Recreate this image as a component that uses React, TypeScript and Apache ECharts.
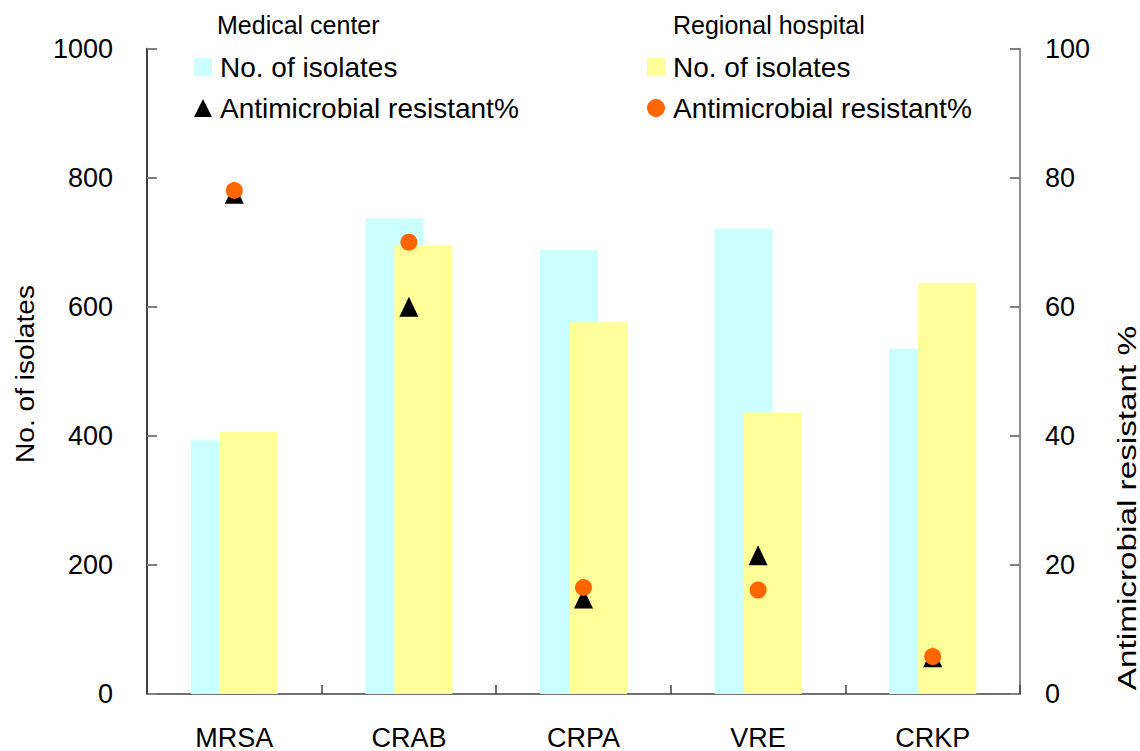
import React, { useEffect, useRef } from "react";
import * as echarts from "echarts";

const categories = ["MRSA", "CRAB", "CRPA", "VRE", "CRKP"];
const medicalIsolates = [393, 737, 688, 721, 535];
const regionalIsolates = [406, 695, 576, 436, 637];
const medicalResistant = [77.5, 60, 14.8, 21.5, 5.7];
const regionalResistant = [78, 70, 16.5, 16.1, 5.8];
const leftTicks = { min: 0, max: 1000, interval: 200 };
const rightTicks = { min: 0, max: 100, interval: 20 };

const FONT = "'Liberation Sans', Arial, Helvetica, sans-serif";
const CYAN = "#CCFFFF";
const YELLOW = "#FFFF99";
const ORANGE = "#FF6600";

const S_MED_N = "Medical center|No. of isolates";
const S_MED_P = "Medical center|Antimicrobial resistant%";
const S_REG_N = "Regional hospital|No. of isolates";
const S_REG_P = "Regional hospital|Antimicrobial resistant%";

export default function App() {
  const ref = useRef<HTMLDivElement>(null);
  useEffect(() => {
    document.body.style.margin = "0";
    const chart = echarts.init(ref.current!, null, { renderer: "svg" });
    const legendBase = {
      orient: "vertical",
      padding: 0,
      itemWidth: 18,
      itemHeight: 18,
      itemGap: 13,
      selectedMode: false,
      formatter: (name: string) => name.split("|")[1],
      textStyle: { fontFamily: FONT, fontSize: 28, color: "#000", lineHeight: 28, padding: [0, 0, 0, 3] },
    };
    chart.setOption({
      animation: false,
      backgroundColor: "#fff",
      textStyle: { fontFamily: FONT },
      grid: { left: 147, right: 120, top: 48.5, bottom: 57, containLabel: false },
      legend: [
        {
          ...legendBase,
          left: 194,
          top: 53,
          data: [
            { name: S_MED_N, icon: "rect" },
            { name: S_MED_P, icon: "triangle" },
          ],
        },
        {
          ...legendBase,
          left: 647,
          top: 53,
          data: [
            { name: S_REG_N, icon: "rect" },
            { name: S_REG_P, icon: "circle" },
          ],
        },
      ],
      xAxis: {
        type: "category",
        data: categories,
        boundaryGap: true,
        axisLine: { show: true, lineStyle: { color: "#404040", width: 1.5 } },
        axisTick: { show: true, inside: true, length: 9, alignWithLabel: false, lineStyle: { color: "#404040", width: 1.5 } },
        axisLabel: { color: "#000", fontSize: 27, fontFamily: FONT, margin: 30 },
        splitLine: { show: false },
      },
      yAxis: [
        {
          type: "value",
          position: "left",
          ...leftTicks,
          axisLine: { show: true, lineStyle: { color: "#000", width: 1.5 } },
          axisTick: { show: true, inside: true, length: 10, lineStyle: { color: "#808080", width: 2 } },
          axisLabel: { color: "#000", fontSize: 27, fontFamily: FONT, margin: 34, formatter: (v: number) => String(v) },
          splitLine: { show: false },
        },
        {
          type: "value",
          position: "right",
          ...rightTicks,
          axisLine: { show: true, lineStyle: { color: "#666", width: 1.5 } },
          axisTick: { show: true, inside: true, length: 10, lineStyle: { color: "#808080", width: 2 } },
          axisLabel: { color: "#000", fontSize: 27, fontFamily: FONT, margin: 25, formatter: (v: number) => String(v) },
          splitLine: { show: false },
        },
      ],
      series: [
        {
          name: S_MED_N,
          type: "bar",
          yAxisIndex: 0,
          data: medicalIsolates,
          barWidth: 58,
          barGap: "-50%",
          itemStyle: { color: CYAN },
          z: 2,
        },
        {
          name: S_REG_N,
          type: "bar",
          yAxisIndex: 0,
          data: regionalIsolates,
          barWidth: 58,
          barGap: "-50%",
          itemStyle: { color: YELLOW },
          z: 3,
        },
        {
          name: S_MED_P,
          type: "scatter",
          yAxisIndex: 1,
          data: medicalResistant,
          symbol: "triangle",
          symbolSize: [19, 20],
          itemStyle: { color: "#000", opacity: 1 },
          z: 4,
        },
        {
          name: S_REG_P,
          type: "scatter",
          yAxisIndex: 1,
          data: regionalResistant,
          symbol: "circle",
          symbolSize: 17,
          itemStyle: { color: ORANGE, opacity: 1 },
          z: 5,
        },
      ],
      graphic: [
        {
          type: "text",
          left: 217,
          top: 12,
          style: { text: "Medical center", fontFamily: FONT, fontSize: 25, fill: "#000" },
        },
        {
          type: "text",
          left: 673,
          top: 12,
          style: { text: "Regional hospital", fontFamily: FONT, fontSize: 25, fill: "#000" },
        },
        {
          type: "text",
          x: 25,
          y: 374,
          rotation: Math.PI / 2,
          scaleX: 1.08,
          style: {
            text: "No. of isolates",
            fontFamily: FONT,
            fontSize: 26,
            fill: "#000",
            align: "center",
            verticalAlign: "middle",
          },
        },
        {
          type: "text",
          x: 1127,
          y: 508,
          rotation: Math.PI / 2,
          scaleX: 1.28,
          style: {
            text: "Antimicrobial resistant %",
            fontFamily: FONT,
            fontSize: 26,
            fill: "#000",
            align: "center",
            verticalAlign: "middle",
          },
        },
      ],
    });
    return () => chart.dispose();
  }, []);
  return <div ref={ref} style={{ position: "fixed", left: 0, top: 0, width: 1140, height: 751 }} />;
}
